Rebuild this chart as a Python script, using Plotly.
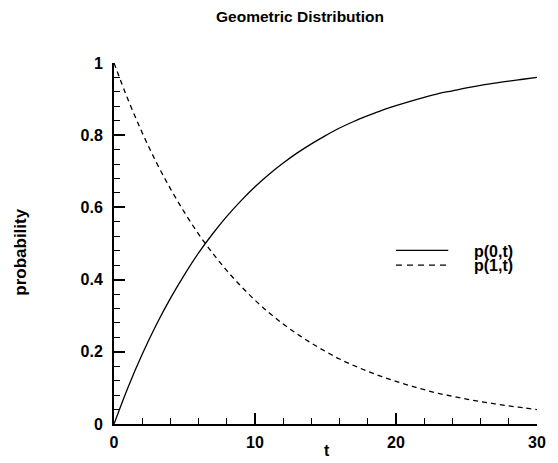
import plotly.graph_objects as go

# Data
t_values = list(range(0, 31))
p0_values = [0.000, 0.102, 0.193, 0.275, 0.348, 0.414, 0.474, 0.527, 0.575, 0.618,
             0.657, 0.692, 0.723, 0.751, 0.776, 0.799, 0.820, 0.838, 0.854, 0.869,
             0.882, 0.894, 0.905, 0.915, 0.923, 0.931, 0.938, 0.944, 0.950, 0.955,
             0.960]
p1_values = [1.000, 0.898, 0.807, 0.725, 0.652, 0.586, 0.526, 0.473, 0.425, 0.382,
             0.343, 0.308, 0.277, 0.249, 0.224, 0.201, 0.180, 0.162, 0.146, 0.131,
             0.118, 0.106, 0.095, 0.085, 0.077, 0.069, 0.062, 0.056, 0.050, 0.045,
             0.040]
series_names = ["p(0,t)", "p(1,t)"]
x_ticks = [0, 10, 20, 30]
y_ticks = [0, 0.2, 0.4, 0.6, 0.8, 1]
y_tick_labels = ["0", "0.2", "0.4", "0.6", "0.8", "1"]

FONT = "Arial, Liberation Sans, Helvetica, sans-serif"

W, H = 558, 463
# plot area in page pixels
PL, PR, PT, PB = 114, 543, 63, 429
L, R, T, B = PL, W - PR, PT, H - PB
pw, ph = PR - PL, PB - PT

def px(xp):
    return (xp - PL) / pw

def py(yp):
    return (PB - yp) / ph

fig = go.Figure()
fig.add_trace(go.Scatter(x=t_values, y=p0_values, mode="lines", name=series_names[0],
                         line=dict(color="black", width=1.3, shape="spline")))
fig.add_trace(go.Scatter(x=t_values, y=p1_values, mode="lines", name=series_names[1],
                         line=dict(color="black", width=1.3, dash="5px,4px", shape="spline")))

axis_common = dict(
    showline=True, linecolor="black", linewidth=2, mirror=False,
    ticks="inside", ticklen=11, tickwidth=1.5, tickcolor="black",
    showgrid=False, zeroline=False, ticklabeloverflow="allow",
    tickfont=dict(family=FONT, size=16, color="black", weight="bold"),
)

fig.update_xaxes(range=[0, 30], tickvals=x_ticks, ticklabelstandoff=3,
                 minor=dict(ticks="inside", dtick=2, ticklen=6, tickwidth=1.2,
                            tickcolor="black", showgrid=False),
                 **axis_common)
fig.update_yaxes(range=[0, 1], tickvals=y_ticks, ticktext=y_tick_labels,
                 ticklabelstandoff=6,
                 minor=dict(ticks="inside", dtick=0.04, ticklen=6, tickwidth=1.2,
                            tickcolor="black", showgrid=False),
                 **axis_common)

annotations = [
    dict(text="probability", x=px(19.5), y=py(254.5), xref="paper", yref="paper",
         textangle=-90, showarrow=False, xanchor="center", yanchor="middle",
         font=dict(family=FONT, size=17, color="black", weight="bold")),
    dict(text="t", x=px(330), y=py(456), xref="paper", yref="paper",
         showarrow=False, xanchor="center", yanchor="middle",
         font=dict(family=FONT, size=16, color="black", weight="bold")),
    dict(text=series_names[0], x=px(477), y=py(254.5), xref="paper", yref="paper",
         showarrow=False, xanchor="left", yanchor="middle",
         font=dict(family=FONT, size=16, color="black", weight="bold")),
    dict(text=series_names[1], x=px(477), y=py(268), xref="paper", yref="paper",
         showarrow=False, xanchor="left", yanchor="middle",
         font=dict(family=FONT, size=16, color="black", weight="bold")),
]
shapes = [
    dict(type="line", xref="paper", yref="paper", x0=px(400), x1=px(453),
         y0=py(253), y1=py(253), line=dict(color="black", width=1.3)),
    dict(type="line", xref="paper", yref="paper", x0=px(400), x1=px(453),
         y0=py(268), y1=py(268), line=dict(color="black", width=1.3, dash="6px,5px")),
]

fig.update_layout(
    width=W, height=H,
    margin=dict(l=L, r=R, t=T, b=B, pad=0),
    paper_bgcolor="white", plot_bgcolor="white",
    showlegend=False,
    title=dict(text="Geometric Distribution", x=300 / W, y=1 - 17 / H,
               xanchor="center", yanchor="middle",
               font=dict(family=FONT, size=15.5, color="black", weight="bold")),
    annotations=annotations, shapes=shapes,
)

# pin the figure to the top-left corner of the page, with no page margin or scrolling
page_fix = ("var d=document.getElementById('{plot_id}');"
            "d.style.position='fixed';d.style.left='0px';d.style.top='0px';"
            "document.documentElement.style.margin='0';"
            "document.documentElement.style.overflow='hidden';"
            "document.body.style.margin='0';"
            "document.body.style.overflow='hidden';")

fig.write_html("out.html", post_script=page_fix,
               config=dict(displayModeBar=False, responsive=False))
